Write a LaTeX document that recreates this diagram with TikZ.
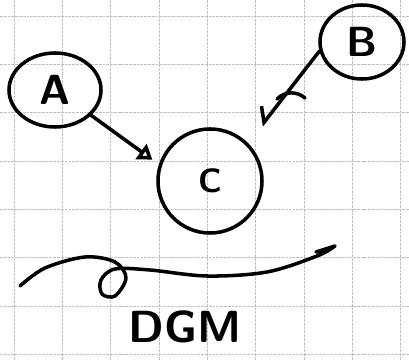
\documentclass[tikz,border=0pt]{standalone}
\usepackage{tikz}
\usetikzlibrary{shapes,arrows,arrows.meta,positioning}
\tikzstyle{varnode} = [draw, ellipse, line width=2.5pt, inner sep=0pt, font=\sffamily\bfseries\fontsize{30}{30}\selectfont]
\tikzstyle{arrow} = [draw, line width=2.5pt, line cap=round, -{Triangle[open,length=10pt,width=13pt]}]
\tikzstyle{barb} = [draw, line width=2.5pt, line cap=round, -{Straight Barb[harpoon,swap,length=8pt,width=17pt]}]
\tikzstyle{stroke} = [draw, line width=2.5pt, line cap=round, line join=round]
\tikzstyle{gridline} = [draw, gray!50, line width=0.4pt, dash pattern=on 2pt off 0.7pt]

\begin{document}
\begin{tikzpicture}[x=0.025cm, y=-0.025cm]
\useasboundingbox (0,0) rectangle (409,360);
% squared paper
\foreach \x in {14,62.3,...,405} \path [gridline] (\x,0) -- (\x,360);
\foreach \y in {16,64.3,...,360} \path [gridline] (0,\y) -- (409,\y);

\path (55,90) node (a) [varnode, minimum width=2.3cm, minimum height=1.85cm] {A};
\path (a)+(307,-48) node (b) [varnode, minimum width=2.1cm, minimum height=1.85cm] {B};
\path (a)+(155,91) node (c) [varnode, minimum size=2.6cm, font=\sffamily\bfseries\fontsize{24}{24}\selectfont] {C};

\path [arrow, shorten >=0.2cm] (a.-35) -- (c.162);
\path [barb, shorten >=0.55cm] (b.192) -- (c.45);
\coordinate (tick) at (289,94);
\path [stroke] ([shift={(-12,5)}]tick) .. controls ([shift={(-4,-3)}]tick) and ([shift={(8,-3)}]tick) .. ([shift={(16,4)}]tick);

% flourish above the title
\path [stroke] plot [smooth, tension=0.55] coordinates {(20,286) (45,268) (85,257) (115,262) (126,278) (115,296) (102,294) (101,280) (115,269) (150,270) (207,276) (267,272) (317,256) (335,246)} -- (316,252);
\path (185,327) node (title) [font=\sffamily\bfseries\fontsize{32}{32}\selectfont] {DGM};
\end{tikzpicture}
\end{document}
